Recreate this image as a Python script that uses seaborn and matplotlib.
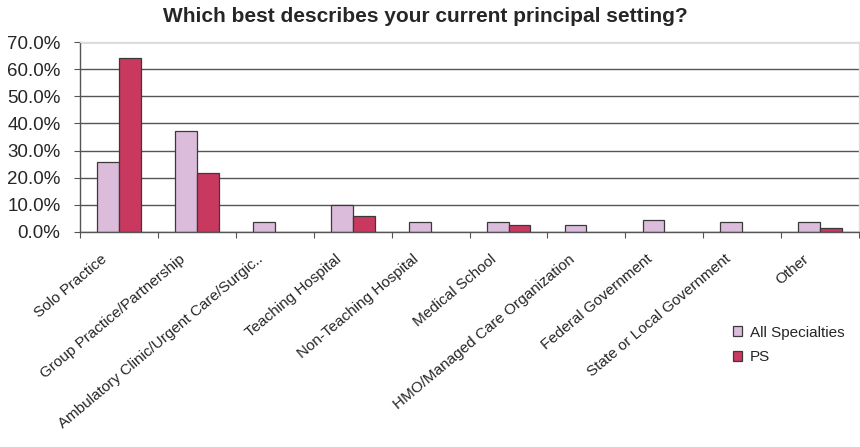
import matplotlib
matplotlib.use("Agg")
import matplotlib.pyplot as plt
import matplotlib.transforms as mtransforms
import seaborn as sns
import pandas as pd
import numpy as np
from matplotlib.ticker import FixedLocator, PercentFormatter

categories = ["Solo Practice", "Group Practice/Partnership",
              "Ambulatory Clinic/Urgent Care/Surgic..", "Teaching Hospital",
              "Non-Teaching Hospital", "Medical School",
              "HMO/Managed Care Organization", "Federal Government",
              "State or Local Government", "Other"]
all_specialties = [25.9, 37.3, 3.5, 10.0, 3.5, 3.5, 2.5, 4.4, 3.5, 3.5]
ps = [64.0, 21.6, 0.0, 6.0, 0.0, 2.4, 0.0, 0.0, 0.0, 1.6]
series = ["All Specialties", "PS"]
colors = ["#dcbcdb", "#c8385f"]
yticks = [0, 10, 20, 30, 40, 50, 60, 70]

df = pd.DataFrame({
    "category": categories * 2,
    "series": [series[0]] * len(categories) + [series[1]] * len(categories),
    "value": all_specialties + ps,
})

sns.set_theme(style="white")
plt.rcParams["font.family"] = ["Liberation Sans", "DejaVu Sans"]

fig = plt.figure(figsize=(8.6, 4.47), dpi=100)
ax = fig.add_axes([0.093, 0.481, 0.906, 0.425])

sns.barplot(data=df, x="category", y="value", hue="series", order=categories,
            hue_order=series, palette=colors, saturation=1, width=0.56, gap=0,
            edgecolor="#3a3a3a", linewidth=0.9, ax=ax, legend=True)

handles, labels = ax.get_legend_handles_labels()
ax.get_legend().remove()

# hide zero-height bars (no visible mark in the reference)
for cont in ax.containers:
    for p in cont:
        if p.get_height() == 0:
            p.set_visible(False)

ax.set_ylim(0, 70)
ax.set_xlim(-0.5, len(categories) - 0.5)
ax.yaxis.set_major_locator(FixedLocator(yticks))
ax.yaxis.set_major_formatter(PercentFormatter(decimals=1))
ax.grid(axis="y", color="#555555", linewidth=1.0)
ax.set_axisbelow(True)
ax.set_xlabel("")
ax.set_ylabel("")

ax.tick_params(axis="y", which="major", labelsize=13.5, length=4, width=0.8,
               color="#555555", left=True, pad=10)
ax.set_xticks(range(len(categories)))
ax.set_xticklabels(categories, rotation=40, ha="right", rotation_mode="anchor",
                   fontsize=11)
ax.tick_params(axis="x", which="major", length=0, pad=0)
offset = mtransforms.ScaledTranslation(-18 / 100, -20 / 100, fig.dpi_scale_trans)
for lbl in ax.get_xticklabels():
    lbl.set_transform(lbl.get_transform() + offset)
ax.set_xticks(np.arange(-0.5, len(categories) + 0.5, 1.0), minor=True)
ax.tick_params(axis="x", which="minor", length=4, width=0.8, color="#555555",
               bottom=True)

for side in ["left", "bottom"]:
    ax.spines[side].set_color("#555555")
    ax.spines[side].set_linewidth(1.0)
for side in ["top", "right"]:
    ax.spines[side].set_color("#dddddd")
    ax.spines[side].set_linewidth(1.0)

fig.text(0.495, 0.963, "Which best describes your current principal setting?",
         ha="center", va="center", fontsize=15, fontweight="bold")

fig.legend(handles, labels, loc="upper left", bbox_to_anchor=(0.845, 0.285),
           frameon=False, fontsize=11, handlelength=0.6, handleheight=0.6,
           handletextpad=0.5, labelspacing=0.7, borderaxespad=0)

fig.savefig("out.png", dpi=100)
